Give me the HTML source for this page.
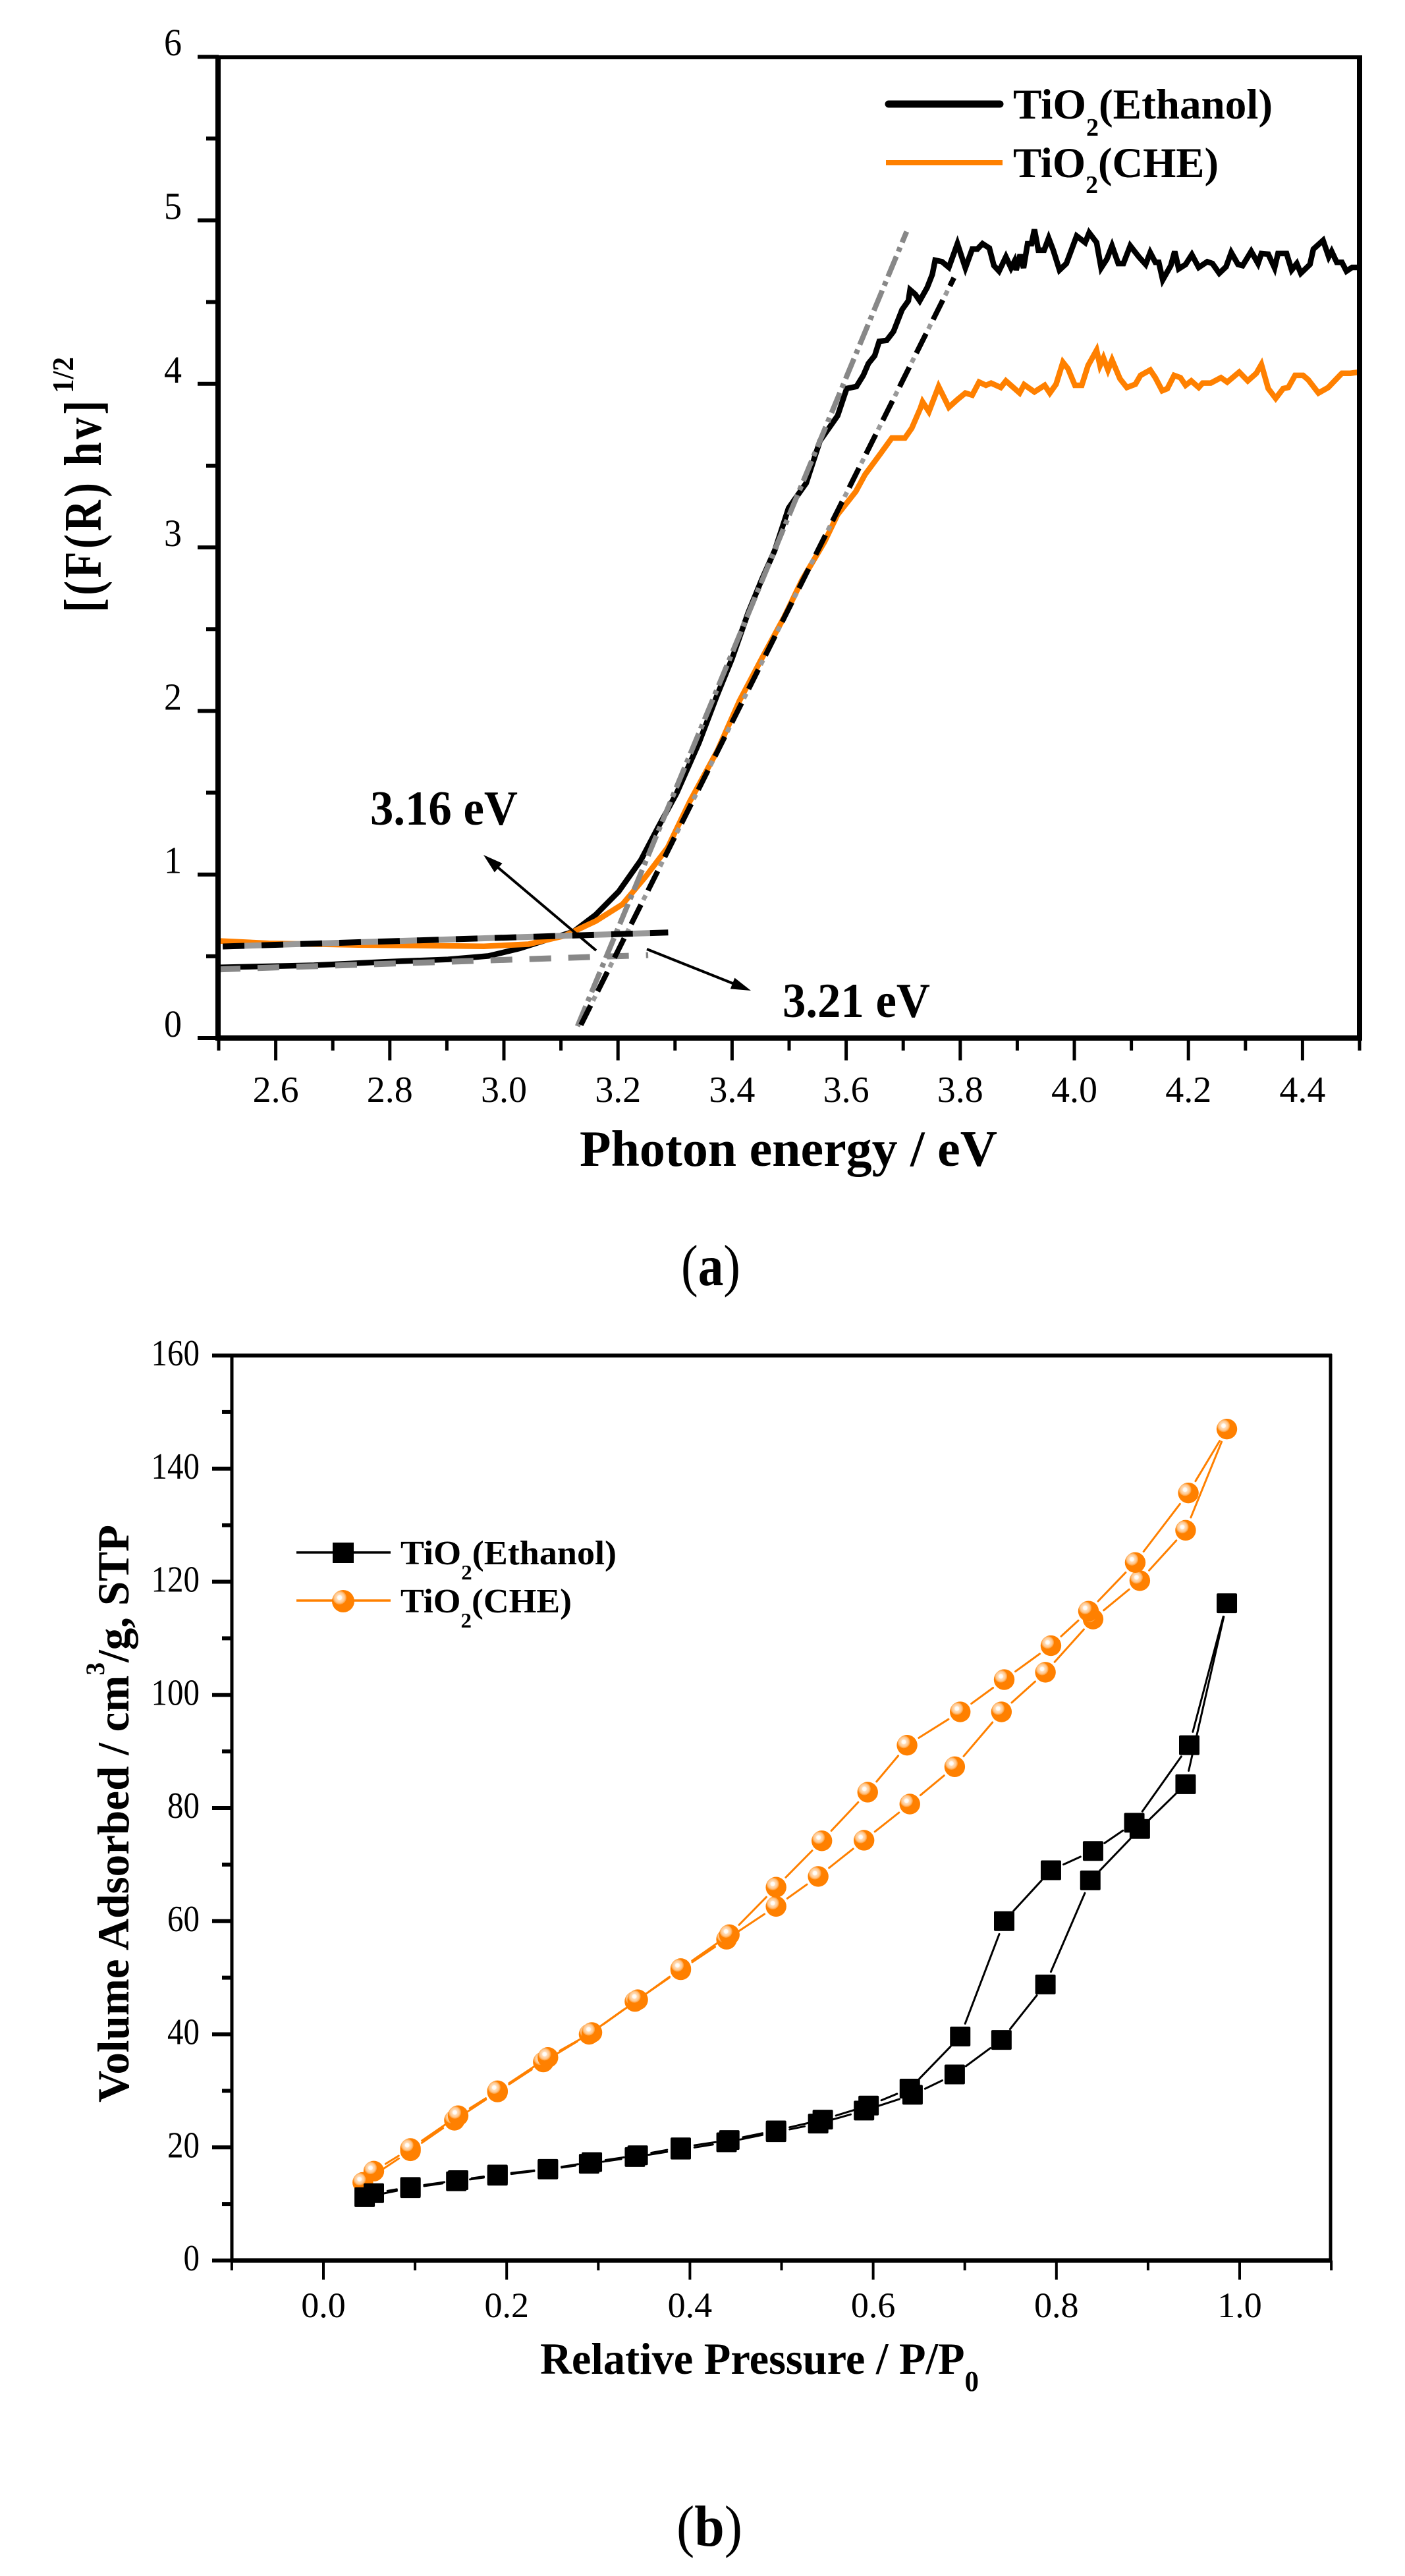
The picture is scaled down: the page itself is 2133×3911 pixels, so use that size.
<!DOCTYPE html>
<html lang="en">
<head>
<meta charset="utf-8">
<title>TiO2 band gap and adsorption charts</title>
<style>
html,body{margin:0;padding:0;background:#fff;}
svg{display:block;}
text{font-family:"Liberation Serif",serif;fill:#000;}
.b{font-weight:bold;}
</style>
</head>
<body>
<svg id="fig" xmlns="http://www.w3.org/2000/svg" width="2133" height="3911" viewBox="0 0 2133 3911">
<defs>
<radialGradient id="ball" cx="0.34" cy="0.34" r="0.31">
<stop offset="0" stop-color="#ffffff"/>
<stop offset="0.3" stop-color="#fffaf2"/>
<stop offset="0.42" stop-color="#ffdcb8"/>
<stop offset="0.72" stop-color="#ffc890"/>
<stop offset="0.98" stop-color="#ff9a30"/>
<stop offset="1" stop-color="#ff8000"/>
</radialGradient>
</defs>

<g id="chartA"></g>
<g id="chartB"></g>

<!-- Chart A frame and labels -->
<line x1="331" y1="85" x2="331" y2="1580" stroke="#000" stroke-width="8"/>
<line x1="2064" y1="85" x2="2064" y2="1580" stroke="#000" stroke-width="8"/>
<line x1="327" y1="87" x2="2068" y2="87" stroke="#000" stroke-width="6"/>
<line x1="327" y1="1576" x2="2068" y2="1576" stroke="#000" stroke-width="8"/>
<text class="b" transform="translate(153,930) rotate(-90) scale(0.82,1)" font-size="80" textLength="393" lengthAdjust="spacing">[(F(R) hv]</text>
<text class="b" transform="translate(111,597) rotate(-90)" font-size="46" textLength="55" lengthAdjust="spacingAndGlyphs">1/2</text>
<text class="b" x="880" y="1770" font-size="77" textLength="634" lengthAdjust="spacingAndGlyphs">Photon energy / eV</text>

<line x1="1349" y1="158" x2="1518" y2="158" stroke="#000" stroke-width="11" stroke-linecap="round"/>
<text class="b" x="1538" y="180" font-size="65" textLength="394" lengthAdjust="spacingAndGlyphs">TiO<tspan font-size="38" dy="26">2</tspan><tspan dy="-26">(Ethanol)</tspan></text>
<line x1="1345" y1="247" x2="1522" y2="247" stroke="#ff8000" stroke-width="8"/>
<text class="b" x="1538" y="269" font-size="65" textLength="312" lengthAdjust="spacingAndGlyphs">TiO<tspan font-size="38" dy="24">2</tspan><tspan dy="-24">(CHE)</tspan></text>

<text class="b" x="562" y="1252" font-size="74" textLength="224" lengthAdjust="spacingAndGlyphs">3.16 eV</text>
<line x1="905" y1="1443" x2="750" y2="1312" stroke="#000" stroke-width="4"/>
<polygon points="734,1298 762.6,1310.8 750.8,1324.4" fill="#000"/>
<text class="b" x="1188" y="1544" font-size="74" textLength="224" lengthAdjust="spacingAndGlyphs">3.21 eV</text>
<line x1="982" y1="1441" x2="1120" y2="1496" stroke="#000" stroke-width="4"/>
<polygon points="1140,1504 1108.8,1501.4 1115.4,1484.6" fill="#000"/>

<text x="1034" y="1951" font-size="88" textLength="90" lengthAdjust="spacingAndGlyphs">(<tspan class="b">a</tspan>)</text>

<!-- Chart B frame and labels -->
<line x1="352" y1="2056" x2="352" y2="3435" stroke="#000" stroke-width="5"/>
<line x1="2020" y1="2056" x2="2020" y2="3435" stroke="#000" stroke-width="5"/>
<line x1="350" y1="2058" x2="2022" y2="2058" stroke="#000" stroke-width="6"/>
<line x1="350" y1="3432" x2="2022" y2="3432" stroke="#000" stroke-width="7"/>
<text class="b" transform="translate(195,3192) rotate(-90)" font-size="68" textLength="877" lengthAdjust="spacingAndGlyphs">Volume Adsorbed / cm<tspan font-size="40" dy="-37">3</tspan><tspan dy="37">/g, STP</tspan></text>
<text class="b" x="820" y="3604" font-size="68" textLength="666" lengthAdjust="spacingAndGlyphs">Relative Pressure / P/P<tspan font-size="44" dy="26">0</tspan></text>

<line x1="450" y1="2357" x2="593" y2="2357" stroke="#000" stroke-width="3.5"/>
<rect x="505" y="2342" width="32" height="31" fill="#000"/>
<text class="b" x="608" y="2375" font-size="52" textLength="328" lengthAdjust="spacingAndGlyphs">TiO<tspan font-size="32" dy="23">2</tspan><tspan dy="-23">(Ethanol)</tspan></text>
<line x1="450" y1="2430" x2="593" y2="2430" stroke="#ff8000" stroke-width="3.5"/>
<circle cx="521" cy="2431" r="17" fill="url(#ball)"/>
<text class="b" x="608" y="2448" font-size="52" textLength="260" lengthAdjust="spacingAndGlyphs">TiO<tspan font-size="32" dy="23">2</tspan><tspan dy="-23">(CHE)</tspan></text>

<text x="1027" y="3865" font-size="88" textLength="100" lengthAdjust="spacingAndGlyphs">(<tspan class="b">b</tspan>)</text>
</svg>

<script>
// ---- Chart A data ----
const energyTickLabels = ["2.6","2.8","3.0","3.2","3.4","3.6","3.8","4.0","4.2","4.4"];
const energyMinorTicks = [2.5,2.7,2.9,3.1,3.3,3.5,3.7,3.9,4.1,4.3,4.5];
const signalTickLabels = ["0","1","2","3","4","5","6"];
const signalMinorTicks = [0.5,1.5,2.5,3.5,4.5,5.5];

const ethanolEnergy = [2.5,2.667,2.792,2.902,2.973,3.028,3.075,3.122,3.161,3.201,3.24,3.271,3.303,3.342,3.373,3.4,3.428,3.452,3.475,3.499,3.53,3.554,3.585,3.601,3.618,3.63,3.639,3.65,3.658,3.671,3.683,3.698,3.709,3.712,3.721,3.729,3.742,3.751,3.756,3.768,3.78,3.795,3.809,3.821,3.83,3.839,3.851,3.859,3.868,3.88,3.889,3.895,3.898,3.905,3.911,3.918,3.925,3.93,3.937,3.947,3.955,3.963,3.974,3.986,4.004,4.019,4.026,4.039,4.047,4.057,4.066,4.077,4.086,4.098,4.113,4.125,4.133,4.142,4.148,4.155,4.169,4.176,4.183,4.195,4.206,4.218,4.233,4.242,4.254,4.266,4.275,4.287,4.295,4.31,4.322,4.328,4.34,4.351,4.357,4.372,4.381,4.39,4.397,4.413,4.419,4.436,4.446,4.451,4.46,4.469,4.477,4.487,4.499];
const ethanolSignal = [0.432,0.445,0.466,0.481,0.502,0.548,0.6,0.651,0.754,0.895,1.087,1.293,1.498,1.806,2.089,2.32,2.598,2.803,2.983,3.24,3.394,3.651,3.805,3.972,3.984,4.052,4.125,4.172,4.26,4.266,4.32,4.454,4.508,4.575,4.548,4.508,4.589,4.669,4.756,4.747,4.712,4.857,4.709,4.824,4.824,4.857,4.83,4.723,4.689,4.777,4.709,4.75,4.696,4.79,4.709,4.857,4.857,4.944,4.817,4.817,4.891,4.817,4.696,4.736,4.904,4.864,4.924,4.864,4.709,4.763,4.844,4.736,4.736,4.844,4.777,4.73,4.803,4.743,4.743,4.636,4.723,4.81,4.703,4.73,4.79,4.712,4.747,4.736,4.676,4.716,4.803,4.73,4.723,4.81,4.736,4.797,4.793,4.709,4.797,4.797,4.696,4.736,4.676,4.73,4.824,4.877,4.777,4.81,4.743,4.743,4.689,4.712,4.712];

const cheEnergy = [2.5,2.588,2.745,2.965,3.043,3.106,3.161,3.208,3.248,3.287,3.326,3.374,3.413,3.452,3.491,3.523,3.562,3.585,3.617,3.633,3.659,3.68,3.703,3.715,3.73,3.734,3.745,3.762,3.78,3.795,3.809,3.821,3.833,3.845,3.854,3.871,3.88,3.904,3.912,3.93,3.948,3.957,3.968,3.98,3.989,4.001,4.013,4.024,4.039,4.045,4.051,4.059,4.066,4.08,4.092,4.107,4.116,4.133,4.142,4.154,4.163,4.175,4.186,4.195,4.205,4.218,4.225,4.239,4.257,4.268,4.289,4.304,4.319,4.328,4.34,4.353,4.366,4.375,4.387,4.401,4.41,4.428,4.445,4.469,4.484,4.499];
const cheSignal = [0.594,0.579,0.569,0.561,0.574,0.625,0.715,0.818,0.985,1.164,1.447,1.755,2.063,2.32,2.572,2.803,3.034,3.201,3.342,3.445,3.568,3.669,3.669,3.729,3.85,3.89,3.83,3.984,3.857,3.904,3.944,3.931,4.011,3.991,4.005,3.978,4.018,3.944,3.995,3.951,3.991,3.944,3.998,4.132,4.092,3.991,3.991,4.112,4.206,4.112,4.159,4.085,4.146,4.031,3.978,3.998,4.052,4.085,4.038,3.958,3.971,4.052,4.038,3.991,4.018,3.978,4.005,4.005,4.038,4.011,4.072,4.018,4.065,4.119,3.971,3.911,3.971,3.978,4.052,4.052,4.025,3.944,3.978,4.065,4.065,4.072];

const slopeEthanolEnergy = [3.129,3.706];
const slopeEthanolSignal = [0.072,4.931];
const slopeCheEnergy = [3.135,3.789];
const slopeCheSignal = [0.08,4.649];
const baseEthanolEnergy = [2.5,3.253];
const baseEthanolSignal = [0.42,0.507];
const baseCheEnergy = [2.507,3.288];
const baseCheSignal = [0.56,0.645];

// ---- Chart B data ----
const pressureTickLabels = ["0.0","0.2","0.4","0.6","0.8","1.0"];
const pressureMinorTicks = [-0.1,0.1,0.3,0.5,0.7,0.9,1.1];
const volumeTickLabels = ["0","20","40","60","80","100","120","140","160"];
const volumeMinorTicks = [10,30,50,70,90,110,130,150];

const ethanolPressure = [0.045,0.095,0.145,0.19,0.245,0.29,0.34,0.39,0.44,0.494,0.54,0.59,0.643,0.689,0.74,0.788,0.837,0.891,0.941,0.986,0.945,0.885,0.84,0.794,0.743,0.695,0.64,0.595,0.545,0.494,0.443,0.39,0.343,0.293,0.245,0.19,0.147,0.095,0.055];
const ethanolVolume = [11.2,12.8,14.0,15.0,16.1,17.1,18.3,19.6,20.9,22.7,24.2,26.5,29.3,32.9,39,48.8,67.2,76.3,84.2,116.2,91.1,77.4,72.4,69,60,39.6,30.4,27.4,24.9,23,21.3,20,18.6,17.4,16.2,15.2,14.2,13,11.9];

const chePressure = [0.043,0.095,0.143,0.19,0.24,0.29,0.34,0.39,0.44,0.494,0.54,0.59,0.64,0.689,0.74,0.788,0.84,0.891,0.941,0.986,0.944,0.886,0.835,0.794,0.743,0.695,0.637,0.594,0.544,0.494,0.443,0.39,0.343,0.293,0.245,0.19,0.147,0.095,0.055];
const cheVolume = [13.8,19.4,24.8,29.8,35.1,40,45.8,51.4,56.8,62.6,67.9,74.3,80.7,87.3,97,104,113.4,120.2,129.1,147,135.7,123.4,114.8,108.7,102.7,97,91.1,82.8,74.2,66,57.6,51.6,46.1,40.3,35.9,30,25.6,19.8,15.8];

// ---- Axis functions ----
function xA(v){ return 332 + (v - 2.5) * 866; }
function yA(v){ return 1576 - v * 248.3; }
function xB(v){ return 491 + v * 1391; }
function yB(v){ return 3432 - v * 8.5875; }

const NS = "http://www.w3.org/2000/svg";
const chartA = document.getElementById("chartA");
const chartB = document.getElementById("chartB");

function mk(parent, tag, props){
  const el = document.createElementNS(NS, tag);
  for (const k in props) el.setAttribute(k, props[k]);
  parent.appendChild(el);
  return el;
}
function pointsOf(xs, ys, fx, fy){
  return xs.map(function(v, i){ return fx(v).toFixed(1) + "," + fy(ys[i]).toFixed(1); }).join(" ");
}

// ---- Chart A ticks ----
energyTickLabels.forEach(function(lab){
  const v = parseFloat(lab);
  const t = mk(chartA, "line", {x1:xA(v), y1:1576, x2:xA(v), y2:1610, stroke:"#000", "stroke-width":5});
  
  
  const l = mk(chartA, "text", {x:xA(v), y:1673, "font-size":56, "text-anchor":"middle"});
  l.textContent = lab;
  
  
});
energyMinorTicks.forEach(function(v){
  const t = mk(chartA, "line", {x1:xA(v), y1:1576, x2:xA(v), y2:1595, stroke:"#000", "stroke-width":5});
  
  
});
signalTickLabels.forEach(function(lab){
  const v = parseFloat(lab);
  const t = mk(chartA, "line", {x1:300, y1:yA(v), x2:332, y2:yA(v), stroke:"#000", "stroke-width":6});
  
  
  const l = mk(chartA, "text", {x:276, y:yA(v) - 2, "font-size":58, "text-anchor":"end", textLength:27, lengthAdjust:"spacingAndGlyphs"});
  l.textContent = lab;
  
  
});
signalMinorTicks.forEach(function(v){
  const t = mk(chartA, "line", {x1:313, y1:yA(v), x2:332, y2:yA(v), stroke:"#000", "stroke-width":6});
  
  
});

// ---- Chart A series ----
const ethanolCurve = mk(chartA, "polyline", {points:pointsOf(ethanolEnergy, ethanolSignal, xA, yA), fill:"none", stroke:"#000", "stroke-width":8.5, "stroke-linejoin":"miter"});



const cheCurve = mk(chartA, "polyline", {points:pointsOf(cheEnergy, cheSignal, xA, yA), fill:"none", stroke:"#ff8000", "stroke-width":8.5, "stroke-linejoin":"miter"});



const greySlope = mk(chartA, "polyline", {points:pointsOf(slopeEthanolEnergy, slopeEthanolSignal, xA, yA), fill:"none", stroke:"#888", "stroke-width":8, "stroke-dasharray":"33 8 7 8"});



const greyBase = mk(chartA, "polyline", {points:pointsOf(baseEthanolEnergy, baseEthanolSignal, xA, yA), fill:"none", stroke:"#888", "stroke-width":9, "stroke-dasharray":"33 26"});



const greyUnderBase = mk(chartA, "polyline", {points:pointsOf(baseCheEnergy, baseCheSignal, xA, yA), fill:"none", stroke:"#999", "stroke-width":9, "stroke-dasharray":"26 33", "stroke-dashoffset":"-33"});



const greyUnderSlope = mk(chartA, "polyline", {points:pointsOf(slopeCheEnergy, slopeCheSignal, xA, yA), fill:"none", stroke:"#999", "stroke-width":7, "stroke-dasharray":"8 49", "stroke-dashoffset":"-41"});



const blackSlope = mk(chartA, "polyline", {points:pointsOf(slopeCheEnergy, slopeCheSignal, xA, yA), fill:"none", stroke:"#000", "stroke-width":8, "stroke-dasharray":"33 24"});



const blackBase = mk(chartA, "polyline", {points:pointsOf(baseCheEnergy, baseCheSignal, xA, yA), fill:"none", stroke:"#000", "stroke-width":9, "stroke-dasharray":"33 26"});



// ---- Chart B ticks ----
pressureTickLabels.forEach(function(lab){
  const v = parseFloat(lab);
  const t = mk(chartB, "line", {x1:xB(v), y1:3432, x2:xB(v), y2:3461, stroke:"#000", "stroke-width":4});
  
  
  const l = mk(chartB, "text", {x:xB(v), y:3518, "font-size":54, "text-anchor":"middle"});
  l.textContent = lab;
  
  
});
pressureMinorTicks.forEach(function(v){
  const t = mk(chartB, "line", {x1:xB(v), y1:3432, x2:xB(v), y2:3447, stroke:"#000", "stroke-width":4});
  
  
});
volumeTickLabels.forEach(function(lab){
  const v = parseFloat(lab);
  const t = mk(chartB, "line", {x1:322, y1:yB(v), x2:352, y2:yB(v), stroke:"#000", "stroke-width":6});
  
  
  const l = mk(chartB, "text", {x:303, y:yB(v) + 15, "font-size":56, "text-anchor":"end", textLength:lab.length * 24.5, lengthAdjust:"spacingAndGlyphs"});
  l.textContent = lab;
  
  
});
volumeMinorTicks.forEach(function(v){
  const t = mk(chartB, "line", {x1:337, y1:yB(v), x2:352, y2:yB(v), stroke:"#000", "stroke-width":6});
  
  
});

// ---- Chart B series: connecting segments stop short of each symbol ----
const markerGap = 21;
function segments(xs, ys, color, visit){
  for (let i = 0; i < xs.length - 1; i++){
    const ax = xB(xs[i]), ay = yB(ys[i]), bx = xB(xs[i + 1]), by = yB(ys[i + 1]);
    const d = Math.hypot(bx - ax, by - ay);
    if (d <= markerGap * 2) continue;
    const ux = (bx - ax) / d, uy = (by - ay) / d;
    visit(mk(chartB, "line", {x1:ax + ux * markerGap, y1:ay + uy * markerGap, x2:bx - ux * markerGap, y2:by - uy * markerGap, stroke:color, "stroke-width":3, "stroke-linecap":"round"}));
  }
}
segments(chePressure, cheVolume, "#ff8000", function(el){
  
  
});
segments(ethanolPressure, ethanolVolume, "#000", function(el){
  
  
});
chePressure.forEach(function(p, i){
  const c = mk(chartB, "circle", {cx:xB(p), cy:yB(cheVolume[i]), r:15.7, fill:"url(#ball)"});
  
  
});
ethanolPressure.forEach(function(p, i){
  const r = mk(chartB, "rect", {x:xB(p) - 15.5, y:yB(ethanolVolume[i]) - 15, width:31, height:30, rx:2, fill:"#000"});
  
  
});
</script>
</body>
</html>
